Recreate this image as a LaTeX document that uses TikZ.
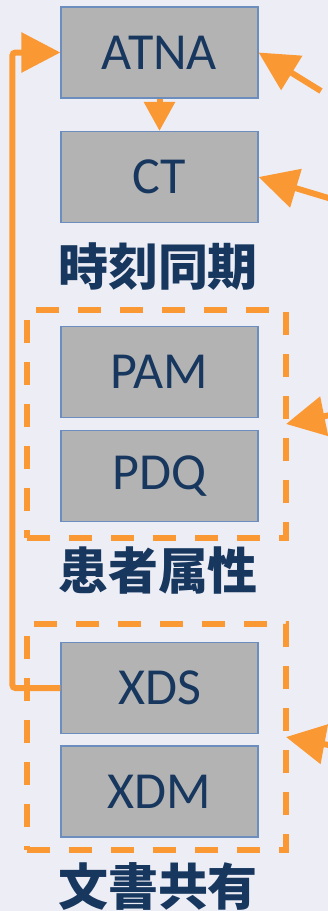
\documentclass[tikz,border=0pt]{standalone}
\usepackage{fontspec}
\setmainfont{Carlito}
\newfontfamily\cjk{Noto Sans CJK JP}
\usepackage{xcolor}
\usetikzlibrary{arrows.meta}
\definecolor{bgcol}{RGB}{237,237,245}
\definecolor{boxgray}{RGB}{179,179,179}
\definecolor{boxline}{RGB}{108,142,191}
\definecolor{arrorange}{RGB}{250,153,51}
\definecolor{txtnavy}{RGB}{23,55,94}

\begin{document}
\begin{tikzpicture}[x=1pt, y=-1pt,
        box/.style={draw=boxline, line width=1.2pt, fill=boxgray, minimum width=197pt, minimum height=91pt, inner sep=0pt, text=txtnavy, font=\fontsize{52}{60}\selectfont},
        grp/.style={draw=arrorange, line width=6pt, dash pattern=on 23pt off 19pt, minimum width=259pt, inner sep=0pt, outer sep=0pt},
        lbl/.style={text=txtnavy, inner sep=0pt, font=\cjk\bfseries\fontsize{50}{56}\selectfont},
        conn/.style={draw=arrorange, line width=6pt, -{Triangle[length=39pt,width=39pt]}}]
                        \useasboundingbox (0,0) rectangle (328,911);
                        \fill[bgcol] (0,0) rectangle (328,911);
                        \clip (0,0) rectangle (328,911);

                        \node[box] (atna) at (159.5, 52.5) {ATNA};
                        \node[box] (ct) at (159.5, 177) {CT};
                        \node[lbl] (sync) at (158, 267) {時刻同期};
                        \node[box] (pam) at (159.5, 372) {PAM};
                        \node[box] (pdq) at (159.5, 476) {PDQ};
                        \node[lbl] (patient) at (158, 571) {患者属性};
                        \node[box] (xds) at (159.5, 688) {XDS};
                        \node[box] (xdm) at (159.5, 791.5) {XDM};
                        \node[lbl] (docs) at (158, 886) {文書共有};
                        \node[grp, minimum height=228pt] (grp1) at (156.5, 424) {};
                        \node[grp, minimum height=226pt] (grp2) at (156.5, 737) {};

                        \coordinate (in1) at (321, 91);
                        \coordinate (in2) at (345, 203);
                        \coordinate (in3) at (350, 411);
                        \coordinate (in4) at (350, 749);

                        \draw[conn, rounded corners=3pt] (xds.west) -- ++(-48, 0) |- (atna.west);
                        \draw[conn, -{Triangle[length=29pt,width=30pt]}] (atna) -- (ct);
                        \draw
                        (in1) edge[conn] (atna.east)
                        (in2) edge[conn] (ct.east)
                        (in3) edge[conn] (grp1.east)
                        (in4) edge[conn] (grp2.east);
                    \end{tikzpicture}
\end{document}
